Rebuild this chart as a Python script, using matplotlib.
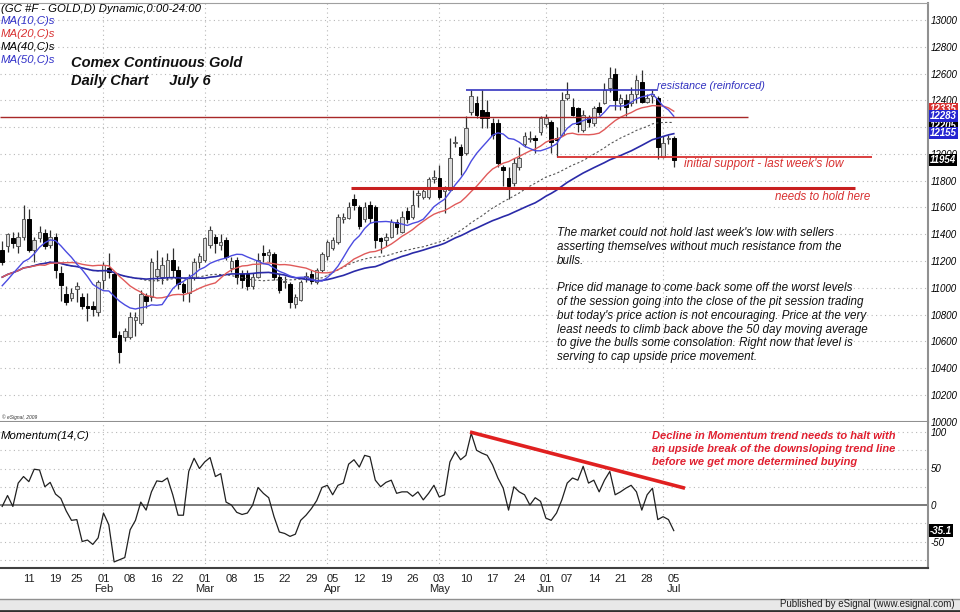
import numpy as np
import pandas as pd
import matplotlib
matplotlib.use("Agg")
import matplotlib.pyplot as plt
import matplotlib.transforms as mtransforms
from matplotlib.lines import Line2D
from matplotlib.patches import Rectangle

plt.rcParams['font.family'] = ['Liberation Sans', 'DejaVu Sans']

# Trading calendar (Comex, Jan 4 - Jul 5 2010)
holidays = ["2010-01-18", "2010-02-15", "2010-04-02", "2010-05-31"]
dates = pd.bdate_range("2010-01-04", "2010-07-05")
dates = dates[~dates.isin(pd.to_datetime(holidays))]

# Daily OHLC (price in tenths of a dollar, as on the chart axis)
opens = [11280, 11310, 11370, 11310, 11380, 11510, 11285, 11370, 11410, 11320,
         11380, 11110, 10950, 10925, 10990, 10930, 10860, 10860, 10820, 11060,
         11150, 11100, 10650, 10630, 10630, 10760, 10740, 10940, 10930, 11090,
         11080, 11080, 11210, 11135, 11025, 10960, 11075, 11190, 11210, 11320,
         11380, 11320, 11360, 11150, 11210, 11100, 11100, 11010, 11080, 11260,
         11245, 11250, 11080, 11040, 11025, 10875, 10910, 11080, 11100, 11045,
         11135, 11235, 11300, 11345, 11510, 11520, 11660, 11600, 11510, 11620,
         11600, 11370, 11360, 11380, 11490, 11420, 11570, 11530, 11690, 11680,
         11680, 11810, 11820, 11720, 11730, 12080, 12050, 12010, 12310, 12380,
         12330, 12310, 12230, 12230, 11900, 11820, 11780, 11900, 12070, 12110,
         12120, 12160, 12220, 12240, 12120, 12140, 12420, 12350, 12340, 12180,
         12270, 12230, 12350, 12380, 12490, 12600, 12380, 12400, 12380, 12450,
         12540, 12390, 12430, 12420, 11980, 12110, 12120]
highs = [11350, 11410, 11420, 11420, 11620, 11590, 11380, 11460, 11440, 11430,
         11410, 11160, 11010, 11000, 11040, 10960, 10960, 10900, 11060, 11190,
         11260, 11120, 10680, 10700, 10820, 10820, 10980, 10960, 11220, 11280,
         11230, 11260, 11300, 11160, 11040, 11100, 11220, 11260, 11380, 11460,
         11400, 11400, 11380, 11230, 11230, 11135, 11135, 11110, 11260, 11320,
         11290, 11270, 11100, 11090, 11040, 10950, 11060, 11120, 11135, 11150,
         11270, 11360, 11380, 11550, 11560, 11640, 11700, 11620, 11640, 11650,
         11620, 11380, 11410, 11510, 11510, 11570, 11600, 11730, 11730, 11750,
         11830, 11880, 11920, 11760, 12120, 12130, 12070, 12280, 12480, 12430,
         12480, 12400, 12270, 12260, 11920, 11900, 11970, 12050, 12160, 12170,
         12140, 12280, 12300, 12250, 12200, 12460, 12540, 12420, 12350, 12330,
         12290, 12360, 12390, 12530, 12650, 12640, 12450, 12450, 12500, 12590,
         12630, 12450, 12480, 12430, 12130, 12140, 12130]
lows = [11170, 11270, 11300, 11260, 11360, 11270, 11190, 11340, 11290, 11300,
        11075, 10900, 10870, 10900, 10890, 10840, 10750, 10790, 10790, 10990,
        11075, 10630, 10440, 10600, 10620, 10640, 10720, 10850, 10900, 11050,
        11030, 11060, 11080, 10990, 10900, 10890, 11060, 11150, 11190, 11300,
        11260, 11285, 11210, 11120, 11025, 11000, 10985, 10990, 11075, 11190,
        11190, 11060, 10960, 11000, 10850, 10850, 10900, 11040, 11030, 11030,
        11120, 11210, 11285, 11330, 11480, 11510, 11580, 11440, 11490, 11480,
        11300, 11260, 11310, 11370, 11400, 11410, 11480, 11510, 11600, 11660,
        11660, 11780, 11660, 11560, 11720, 12050, 11840, 11990, 12290, 12270,
        12190, 12190, 12110, 11900, 11760, 11660, 11760, 11880, 12050, 12090,
        12010, 12140, 12200, 12010, 11980, 12130, 12400, 12280, 12160, 12160,
        12200, 12210, 12290, 12370, 12460, 12330, 12330, 12280, 12360, 12380,
        12380, 12380, 12380, 11960, 11970, 12070, 11900]
closes = [11190, 11400, 11335, 11380, 11510, 11285, 11360, 11420, 11310, 11380,
          11135, 11020, 10890, 10960, 11010, 10860, 10850, 10840, 11040, 11170,
          11120, 10630, 10520, 10680, 10780, 10780, 10950, 10900, 11190, 11140,
          11170, 11210, 11135, 11025, 10970, 11080, 11190, 11240, 11370, 11430,
          11335, 11345, 11230, 11200, 11080, 11060, 11010, 11080, 11210, 11245,
          11270, 11080, 10985, 11050, 10890, 10930, 11040, 11090, 11050, 11135,
          11250, 11340, 11360, 11530, 11530, 11600, 11620, 11460, 11600, 11520,
          11360, 11350, 11380, 11490, 11450, 11530, 11510, 11620, 11710, 11720,
          11810, 11830, 11680, 11750, 11970, 12090, 11990, 12190, 12430, 12290,
          12270, 12270, 12140, 11930, 11880, 11760, 11930, 11970, 12130, 12120,
          12100, 12270, 12270, 12090, 12100, 12400, 12450, 12290, 12220, 12290,
          12240, 12340, 12310, 12480, 12570, 12400, 12420, 12350, 12450, 12550,
          12390, 12420, 12450, 12050, 12080, 12120, 11954]
# last 14 sessions of Dec 2009 (needed to start the moving averages)
prior_close = [11210, 11270, 11355, 11080, 11120, 10965, 10870,
               10940, 11060, 11070, 10985, 10930, 10970, 11170]

# Momentum(14,C) as drawn in the lower pane
momentum = [-2, 13, -2, 30, 39, 32, 49, 48, 25, 31,
            15, 9, -8, -21, -20, -50, -48, -54, -45, -11,
            -27, -78, -75, -72, -34, -21, 4, -7, 18, 33,
            32, 37, 14, -14, -14, 46, 64, 50, 59, 65,
            39, 43, 4, 0, -10, -13, -11, 0, 24, 16,
            10, -16, -37, -39, -43, -40, -21, -14, -5, 6,
            24, 27, 14, 27, 30, 56, 62, 52, 68, 66,
            34, 25, 31, 34, 16, 18, 18, 12, 18, 7,
            16, 27, 11, 14, 59, 73, 62, 68, 98, 75,
            71, 68, 55, 37, 23, -7, 25, 18, 14, 0,
            10, 5, -18, -21, -11, 7, 30, 37, 34, 53,
            30, 34, 18, 34, 46, 14, 18, 23, 27, 18,
            -7, 14, 23, -20, -16, -20, -35.1]

# axis ticks
price_ticks = list(range(10000, 13001, 200))
mom_ticks = [-50, 0, 50, 100]
tick_days = ["2010-01-11", "2010-01-19", "2010-01-25", "2010-02-01", "2010-02-08",
             "2010-02-16", "2010-02-22", "2010-03-01", "2010-03-08", "2010-03-15",
             "2010-03-22", "2010-03-29", "2010-04-05", "2010-04-12", "2010-04-19",
             "2010-04-26", "2010-05-03", "2010-05-10", "2010-05-17", "2010-05-24",
             "2010-06-01", "2010-06-07", "2010-06-14", "2010-06-21", "2010-06-28",
             "2010-07-05"]
month_starts = ["2010-02-01", "2010-03-01", "2010-04-01", "2010-05-03", "2010-06-01", "2010-07-01"]

# levels drawn on the chart
resistance = 12478
upper_line = 12276
support = 11980
must_hold = 11747
# values shown in the boxes on the right scale
last_boxes = [(12335, "12335", "#d83030"), (12205, "12205", "black"),
              (12283, "12283", "#2525d0"), (12155, "12155", "#2525d0"),
              (11954, "11954", "black")]

o = np.array(opens); h = np.array(highs); l = np.array(lows); c = np.array(closes)
x = np.arange(len(dates))
full = pd.Series(prior_close + closes, dtype=float)
n0 = len(prior_close)
ma = {n: full.rolling(n, min_periods=1).mean().iloc[n0:].values for n in (10, 20, 40, 50)}

W, H = 960, 612
fig = plt.figure(figsize=(9.6, 6.12), dpi=100)
fig.patch.set_facecolor("white")
ax = fig.add_axes([0, (H - 422) / H, 928 / W, 419 / H])
axm = fig.add_axes([0, (H - 568) / H, 928 / W, 146 / H], sharex=ax)

ppb = 5.33  # pixels per bar
ax.set_xlim(-2.2 / ppb, (928 - 2.2) / ppb)
ax.set_ylim(13000 - (422 - 20) / 26.8 * 200 - 3, 13000 + (20 - 3) / 26.8 * 200)
axm.set_ylim(-(568 - 505) * 50 / 36.5, (505 - 422) * 50 / 36.5)

grid_kw = dict(color="#b8b8b8", lw=0.8, ls=(0, (1, 3)), zorder=0)
for p in price_ticks:
    ax.axhline(p, **grid_kw)
for m in range(-75, 101, 25):
    if m != 0:
        axm.axhline(m, **grid_kw)
for d in month_starts:
    i = dates.get_loc(pd.Timestamp(d))
    ax.axvline(i, **grid_kw)
    axm.axvline(i, **grid_kw)

# candles
up = c >= o
body_lo = np.minimum(o, c)
body_h = np.maximum(np.abs(c - o), 6)
ax.vlines(x, l, h, color="#303030", lw=0.9, zorder=2)
ax.bar(x[up], body_h[up], bottom=body_lo[up], width=0.66, color="#d9d9d9",
       edgecolor="#5a5a5a", linewidth=0.7, zorder=3)
ax.bar(x[~up], body_h[~up], bottom=body_lo[~up], width=0.66, color="black",
       edgecolor="black", linewidth=0.7, zorder=3)

# moving averages
ax.plot(x, ma[40], color="#555555", lw=0.8, ls=(0, (2, 2)), zorder=4)
ax.plot(x, ma[50], color="#2a2aa8", lw=1.2, zorder=4)
ax.plot(x, ma[20], color="#e05a5a", lw=1.0, zorder=4)
ax.plot(x, ma[10], color="#4b4be0", lw=1.0, zorder=4)

# support / resistance lines
ax.hlines(upper_line, -0.5, (748 - 2.2) / ppb, color="#a82828", lw=1.0, zorder=5)
ax.hlines(resistance, 87, 123, color="#3535c0", lw=1.2, zorder=5)
ax.hlines(support, 104, (872 - 2.2) / ppb, color="#d83030", lw=1.3, zorder=5)
ax.hlines(must_hold, 65.5, (855 - 2.2) / ppb, color="#c82020", lw=2.2, zorder=5)

# momentum pane
axm.axhline(0, color="#707070", lw=1.3, zorder=1)
axm.plot(x, momentum, color="#202020", lw=0.9, zorder=3)
axm.plot([(470 - 2.2) / ppb, (685 - 2.2) / ppb], [100, 23], color="#e02020",
         lw=2.6, solid_capstyle="butt", zorder=4)

# axes styling
for a in (ax, axm):
    a.set_facecolor("white")
    a.spines["left"].set_visible(False)
    a.spines["right"].set_color("#909090")
    a.spines["right"].set_linewidth(1.5)
    a.spines["top"].set_color("#a0a0a0")
    a.yaxis.tick_right()
    a.tick_params(axis="y", length=0, pad=2, labelsize=7)
ax.spines["bottom"].set_color("#909090")
ax.spines["bottom"].set_linewidth(1.5)
axm.spines["top"].set_visible(False)
axm.spines["bottom"].set_color("#404040")
axm.spines["bottom"].set_linewidth(1.5)

ax.set_yticks(price_ticks)
ax.set_yticklabels([str(p) for p in price_ticks], style="italic")
axm.set_yticks(mom_ticks)
axm.set_yticklabels([str(m) for m in mom_ticks], style="italic")
ax.tick_params(axis="x", bottom=False, labelbottom=False)

tick_pos = [dates.get_loc(pd.Timestamp(d)) for d in tick_days]
tick_lab = []
prev_month = None
for d in tick_days:
    t = pd.Timestamp(d)
    lab = t.strftime("%d")
    if prev_month is not None and t.month != prev_month:
        lab += "\n" + t.strftime("%b")
    prev_month = t.month
    tick_lab.append(lab)
axm.set_xticks(tick_pos)
axm.set_xticklabels(tick_lab, fontsize=8, color="#202020",
                    family=["Liberation Sans Narrow", "Liberation Sans"], linespacing=1.1)
axm.tick_params(axis="x", length=0, pad=4)

# value boxes on the right scale
blend = mtransforms.blended_transform_factory(ax.transAxes, ax.transData)
for val, txt, col in last_boxes:
    ax.text(1.002, val, txt, transform=blend, ha="left", va="center", fontsize=7,
            color="white", fontweight="bold", style="italic", clip_on=False, zorder=10,
            bbox=dict(boxstyle="square,pad=0.12", fc=col, ec="none"))
blend_m = mtransforms.blended_transform_factory(axm.transAxes, axm.transData)
axm.text(1.002, momentum[-1], "-35.1", transform=blend_m, ha="left", va="center",
         fontsize=7, color="white", fontweight="bold", style="italic", clip_on=False,
         zorder=10, bbox=dict(boxstyle="square,pad=0.12", fc="black", ec="none"))


def px_text(px, py, s, **kw):
    fig.text(px / W, 1 - py / H, s, **kw)


it = dict(style="italic", va="center", ha="left")
px_text(1, 9, "(GC #F - GOLD,D) Dynamic,0:00-24:00", fontsize=8.2, color="black", **it)
px_text(1, 21, "MA(10,C)s", fontsize=8.2, color="#3030c8", **it)
px_text(1, 34, "MA(20,C)s", fontsize=8.2, color="#d83030", **it)
px_text(1, 47, "MA(40,C)s", fontsize=8.2, color="black", **it)
px_text(1, 60, "MA(50,C)s", fontsize=8.2, color="#3030c8", **it)
px_text(71, 63, "Comex Continuous Gold", fontsize=10.5, fontweight="bold", color="#111111", **it)
px_text(71, 81, "Daily Chart     July 6", fontsize=10.5, fontweight="bold", color="#111111", **it)
px_text(2, 417, "\u00a9 eSignal, 2009", fontsize=3.5, color="#333333", **it)

note = ("The market could not hold last week's low with sellers\n"
        "asserting themselves without much resistance from the\n"
        "bulls.\n\n"
        "Price did manage to come back some off the worst levels\n"
        "of the session going into the close of the pit session trading\n"
        "but today's price action is not encouraging. Price at the very\n"
        "least needs to climb back above the 50 day moving average\n"
        "to give the bulls some consolation. Right now that level is\n"
        "serving to cap upside price movement.")
fig.text(557 / W, 1 - 227 / H, note, fontsize=8.4, style="italic", color="#111111",
         va="top", ha="left", linespacing=1.2)

px_text(657, 86, "resistance (reinforced)", fontsize=7.8, color="#3030c0", **it)
px_text(684, 164, "initial support - last week's low", fontsize=8.6, color="#d83030", **it)
px_text(775, 197, "needs to hold here", fontsize=8.3, color="#d83030", **it)

px_text(1, 436, "Momentum(14,C)", fontsize=8.2, color="black", **it)
mom_note = ("Decline in Momentum trend needs to halt with\n"
            "an upside break of the downsloping trend line\n"
            "before we get more determined buying")
fig.text(652 / W, 1 - 431 / H, mom_note, fontsize=8.0, fontweight="bold", style="italic",
         color="#e02030", va="top", ha="left", linespacing=1.38)

# footer bar
fig.patches.append(Rectangle((0, 2 / H), 1, 11 / H, transform=fig.transFigure,
                             fc="#e8e8e8", ec="none", zorder=0))
fig.lines.append(Line2D([0, 1], [13 / H, 13 / H], transform=fig.transFigure,
                        color="#909090", lw=1))
fig.lines.append(Line2D([0, 1], [1 / H, 1 / H], transform=fig.transFigure,
                        color="#303030", lw=2))
fig.text(955 / W, 1 - 604 / H, "Published by eSignal (www.esignal.com)", fontsize=7,
         family=["Liberation Sans Narrow", "Liberation Sans"], color="#202020",
         ha="right", va="center")

fig.savefig("out.png", dpi=100)
